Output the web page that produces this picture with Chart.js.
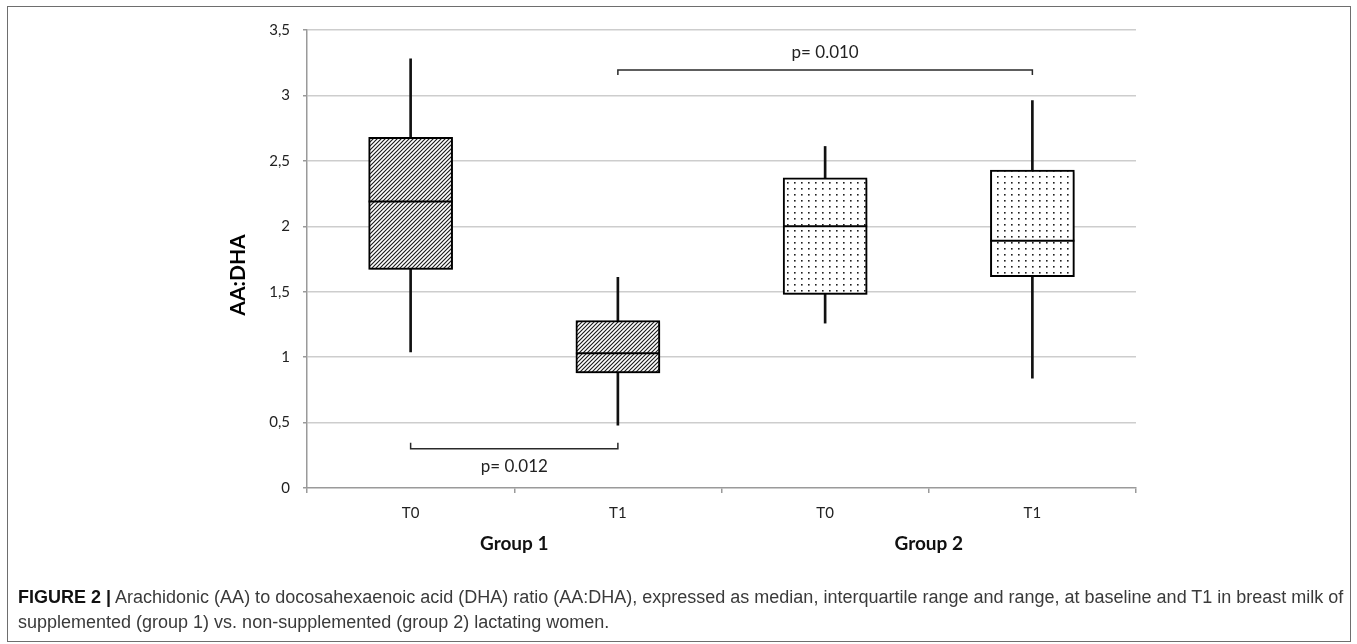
<!DOCTYPE html>
<html>
<head>
<meta charset="utf-8">
<script src="https://cdn.jsdelivr.net/npm/chart.js@4.4.1/dist/chart.umd.min.js"></script>
<style>
  html, body { margin: 0; padding: 0; background: #fff; }
  #wrap { position: relative; width: 1357px; height: 644px; overflow: hidden; }
  #frame { position: absolute; left: 7px; top: 6px; width: 1344px; height: 636px;
           border: 1.5px solid #6e6e6e; box-sizing: border-box; }
  canvas { position: absolute; left: 0; top: 0; }
  #caption { position: absolute; left: 18px; top: 585px; white-space: nowrap;
             font-family: 'Liberation Sans', Arial, sans-serif; font-size: 18px;
             line-height: 25px; color: #3a3a3a; }
  #caption b { color: #111; }
</style>
</head>
<body>
<div id="wrap">
  <div id="frame"></div>
  <canvas id="chart" width="1357" height="644"></canvas>
  <div id="caption"><b>FIGURE 2 |</b> Arachidonic (AA) to docosahexaenoic acid (DHA) ratio (AA:DHA), expressed as median, interquartile range and range, at baseline and T1 in breast milk of<br>supplemented (group 1) vs. non-supplemented (group 2) lactating women.</div>
</div>
<script>
// AA:DHA ratio per group and time point
const categories   = ['T0', 'T1', 'T0', 'T1'];
const groupLabels  = ['Group 1', 'Group 2'];
const minValues    = [1.04, 0.48, 1.26, 0.84];
const q1Values     = [1.67, 0.88, 1.48, 1.615];
const medianValues = [2.19, 1.03, 2.00, 1.89];
const q3Values     = [2.68, 1.28, 2.37, 2.43];
const maxValues    = [3.28, 1.61, 2.61, 2.96];
const yTicks       = [0, 0.5, 1, 1.5, 2, 2.5, 3, 3.5];

// significance brackets (category indices, bracket height, label)
const comparisonFrom   = [0, 1];
const comparisonTo     = [1, 3];
const comparisonLevel  = [0.30, 3.195];
const comparisonLabels = ['p= 0.012', 'p= 0.010'];

const FONT = "Lato, 'Open Sans', sans-serif";

function hatchPattern() {
  const c = document.createElement('canvas');
  c.width = 4; c.height = 4;
  const g = c.getContext('2d');
  g.fillStyle = '#fff'; g.fillRect(0, 0, 4, 4);
  g.strokeStyle = '#1b1b1b'; g.lineWidth = 1.15;
  g.beginPath();
  g.moveTo(-1, 5); g.lineTo(5, -1);
  g.moveTo(-1, 1); g.lineTo(1, -1);
  g.moveTo(3, 5);  g.lineTo(5, 3);
  g.stroke();
  return g.createPattern(c, 'repeat');
}

function dotPattern() {
  const c = document.createElement('canvas');
  c.width = 7; c.height = 6;
  const g = c.getContext('2d');
  g.fillStyle = '#fff'; g.fillRect(0, 0, 7, 6);
  g.fillStyle = '#1e1e1e'; g.fillRect(3, 2, 1.6, 1.6);
  return g.createPattern(c, 'repeat');
}

const hatch = hatchPattern();
const dots = dotPattern();
// group 1 boxes hatched, group 2 boxes dotted
const boxFills = categories.map((_, i) => (i < 2 ? hatch : dots));

const boxShadow = {
  id: 'boxShadow',
  beforeDatasetDraw(chart, args) {
    if (args.index !== 0) return;
    const ctx = chart.ctx;
    ctx.save();
    ctx.shadowColor = 'rgba(0,0,0,0.35)';
    ctx.shadowBlur = 3;
    ctx.shadowOffsetX = 1.5;
    ctx.shadowOffsetY = 2;
  },
  afterDatasetDraw(chart, args) {
    if (args.index !== 0) return;
    chart.ctx.restore();
  }
};

const medians = {
  id: 'medians',
  afterDatasetsDraw(chart) {
    const ctx = chart.ctx;
    const y = chart.scales.y;
    const bars = chart.getDatasetMeta(0).data;
    ctx.save();
    ctx.strokeStyle = '#000';
    ctx.lineWidth = 2;
    medianValues.forEach((m, i) => {
      const b = bars[i];
      const py = y.getPixelForValue(m);
      ctx.beginPath();
      ctx.moveTo(b.x - b.width / 2, py);
      ctx.lineTo(b.x + b.width / 2, py);
      ctx.stroke();
    });
    ctx.restore();
  }
};

const annotations = {
  id: 'annotations',
  afterDraw(chart) {
    const ctx = chart.ctx;
    const x = chart.scales.x, y = chart.scales.y;
    const area = chart.chartArea;
    ctx.save();

    // significance brackets
    ctx.strokeStyle = '#2a2a2a';
    ctx.lineWidth = 1.5;
    ctx.fillStyle = '#222';
    ctx.font = '17px ' + FONT;
    ctx.textAlign = 'center';
    ctx.textBaseline = 'middle';
    comparisonLevel.forEach((lvl, i) => {
      const x1 = x.getPixelForValue(comparisonFrom[i]);
      const x2 = x.getPixelForValue(comparisonTo[i]);
      const py = y.getPixelForValue(lvl);
      const up = lvl < 1.5;
      const tick = up ? -6 : 5;
      ctx.beginPath();
      ctx.moveTo(x1, py + tick); ctx.lineTo(x1, py);
      ctx.lineTo(x2, py); ctx.lineTo(x2, py + tick);
      ctx.stroke();
      ctx.fillText(comparisonLabels[i], (x1 + x2) / 2, up ? py + 18 : py - 17);
    });

    // group labels under each pair of time points
    ctx.fillStyle = '#111';
    ctx.font = 'bold 19px ' + FONT;
    groupLabels.forEach((g, i) => {
      const cx = (x.getPixelForValue(2 * i) + x.getPixelForValue(2 * i + 1)) / 2;
      ctx.fillText(g, cx, area.bottom + 56);
    });

    // y axis title
    ctx.translate(area.left - 69, (area.top + area.bottom) / 2 + 16);
    ctx.rotate(-Math.PI / 2);
    ctx.font = 'bold 21px ' + FONT;
    ctx.fillStyle = '#000';
    ctx.fillText('AA:DHA', 0, 0);
    ctx.restore();
  }
};

new Chart(document.getElementById('chart'), {
  type: 'bar',
  data: {
    labels: categories,
    datasets: [
      {
        label: 'Interquartile range',
        data: categories.map((_, i) => [q1Values[i], q3Values[i]]),
        backgroundColor: boxFills,
        borderColor: '#000',
        borderWidth: 2,
        borderSkipped: false,
        barThickness: 84,
        grouped: false
      },
      {
        label: 'Range',
        data: categories.map((_, i) => [minValues[i], maxValues[i]]),
        backgroundColor: '#111',
        borderWidth: 0,
        barThickness: 2,
        grouped: false
      }
    ]
  },
  options: {
    responsive: false,
    animation: false,
    devicePixelRatio: 1,
    layout: { padding: { top: 30, right: 221, bottom: 0, left: 0 } },
    plugins: { legend: { display: false }, tooltip: { enabled: false } },
    scales: {
      x: {
        offset: true,
        grid: { display: true, drawOnChartArea: false, drawTicks: true, tickLength: 5,
                offset: true, tickColor: '#9a9a9a', lineWidth: 1.5 },
        border: { display: true, color: '#9a9a9a', width: 1.5 },
        ticks: { font: { family: FONT, size: 15 }, color: '#222', padding: 11 },
        afterFit(s) { s.height = 156; }
      },
      y: {
        min: 0,
        max: 3.5,
        afterBuildTicks(s) { s.ticks = yTicks.map(v => ({ value: v })); },
        ticks: {
          callback: v => String(v).replace('.', ','),
          font: { family: FONT, size: 15 },
          color: '#222',
          padding: 13
        },
        grid: {
          color: c => (c.tick && c.tick.value === 0 ? 'rgba(0,0,0,0)' : '#cdcdcd'),
          lineWidth: 1.5,
          drawTicks: true,
          tickLength: 4,
          tickColor: '#9a9a9a'
        },
        border: { color: '#9a9a9a', width: 1.5 },
        afterFit(s) { s.width = 307; }
      }
    }
  },
  plugins: [boxShadow, medians, annotations]
});
</script>
</body>
</html>
